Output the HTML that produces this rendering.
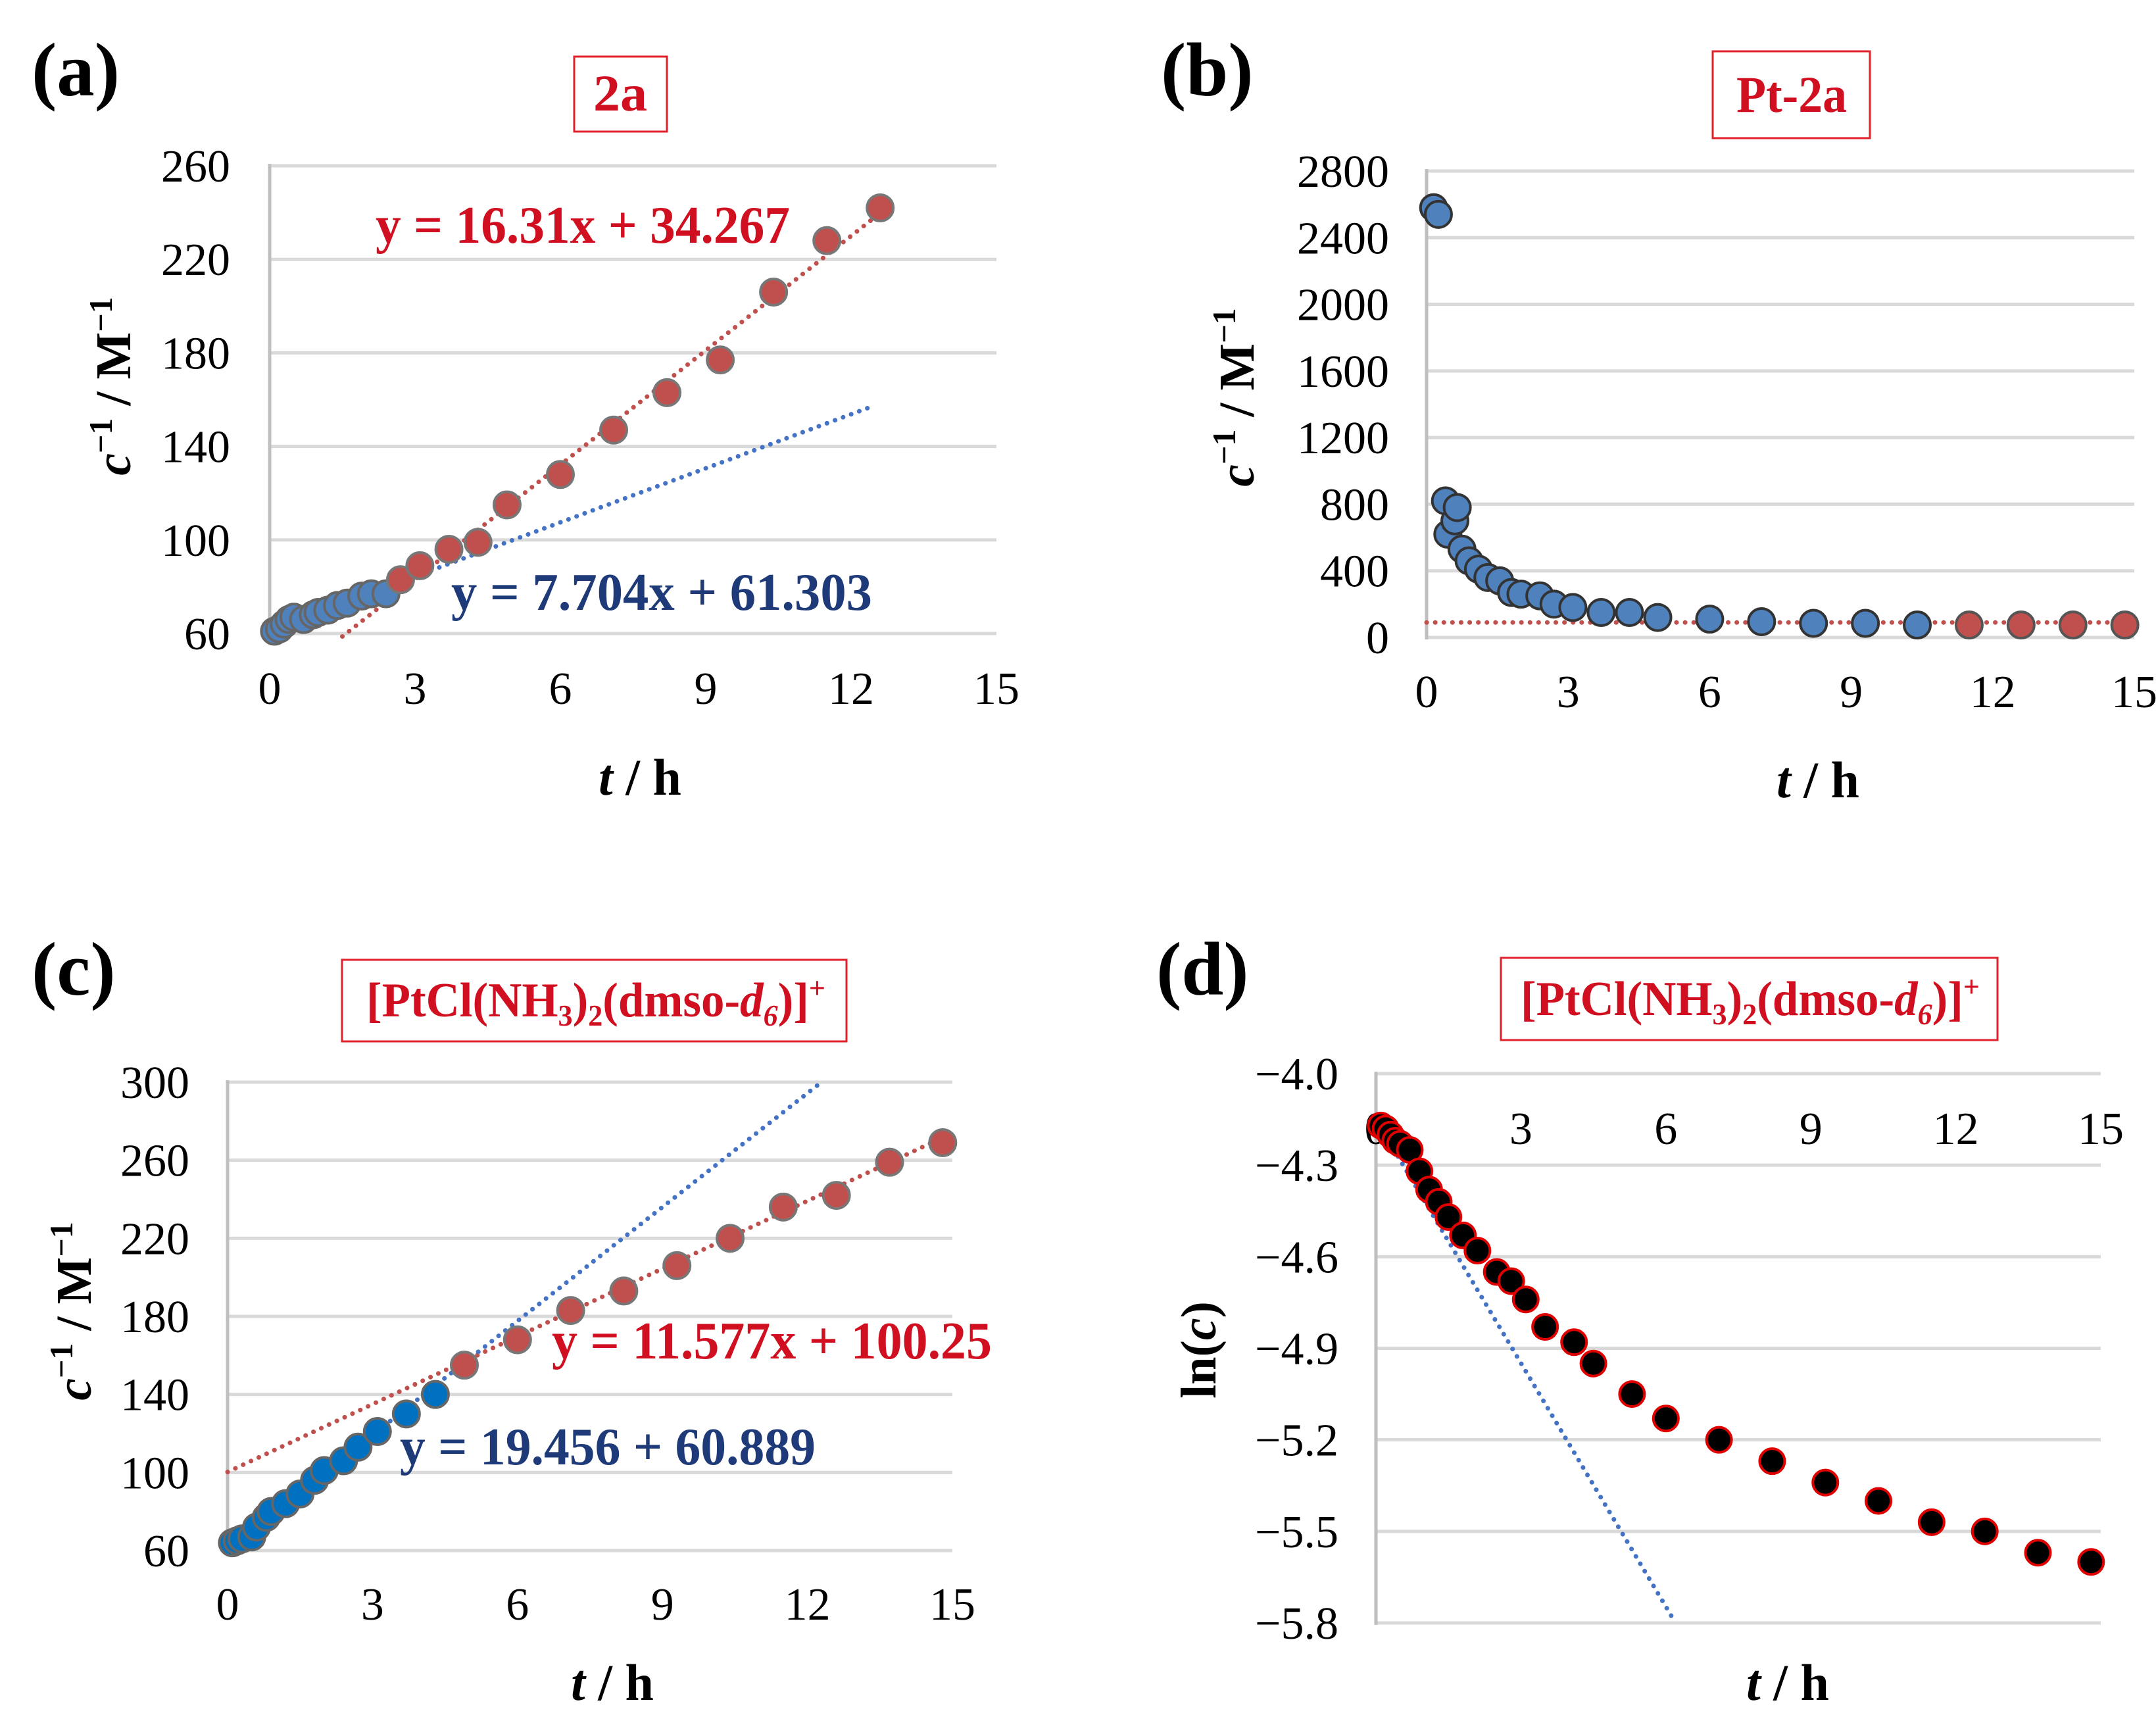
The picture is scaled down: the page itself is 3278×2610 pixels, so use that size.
<!DOCTYPE html>
<html><head><meta charset="utf-8"><style>
html,body{margin:0;padding:0;background:#fff}
svg{display:block}
text{font-family:"Liberation Serif",serif}
</style></head><body>
<svg id="fig" xmlns="http://www.w3.org/2000/svg" width="3278" height="2610" viewBox="0 0 3278 2610">
<!-- panel labels -->
<text x="48" y="145" font-size="115" font-weight="bold">(a)</text>
<text x="1765" y="145" font-size="115" font-weight="bold">(b)</text>
<text x="48" y="1512" font-size="115" font-weight="bold">(c)</text>
<text x="1758" y="1512" font-size="115" font-weight="bold">(d)</text>
<!-- title boxes -->
<g>
<rect x="873" y="86" width="141" height="114" fill="none" stroke="#e0202a" stroke-width="3"/>
<text x="943" y="168" font-size="78" font-weight="bold" fill="#d01020" text-anchor="middle" textLength="82" lengthAdjust="spacingAndGlyphs">2a</text></g>
<g>
<rect x="2604" y="78" width="239" height="132" fill="none" stroke="#e0202a" stroke-width="3"/>
<text x="2724" y="170" font-size="78" font-weight="bold" fill="#d01020" text-anchor="middle" textLength="168" lengthAdjust="spacingAndGlyphs">Pt-2a</text></g>
<g>
<rect x="520" y="1459" width="767" height="124" fill="none" stroke="#e0202a" stroke-width="3"/>
<text x="557" y="1545" font-size="74" font-weight="bold" fill="#d01020" textLength="698" lengthAdjust="spacingAndGlyphs">[PtCl(NH<tspan font-size="46" dy="14">3</tspan><tspan dy="-14">)</tspan><tspan font-size="46" dy="14">2</tspan><tspan dy="-14">(dmso-</tspan><tspan font-style="italic">d</tspan><tspan font-size="46" font-style="italic" dy="14">6</tspan><tspan dy="-14">)]</tspan><tspan font-size="46" dy="-28">+</tspan></text></g>
<g>
<rect x="2282" y="1456" width="755" height="125" fill="none" stroke="#e0202a" stroke-width="3"/>
<text x="2312" y="1543" font-size="74" font-weight="bold" fill="#d01020" textLength="698" lengthAdjust="spacingAndGlyphs">[PtCl(NH<tspan font-size="46" dy="14">3</tspan><tspan dy="-14">)</tspan><tspan font-size="46" dy="14">2</tspan><tspan dy="-14">(dmso-</tspan><tspan font-style="italic">d</tspan><tspan font-size="46" font-style="italic" dy="14">6</tspan><tspan dy="-14">)]</tspan><tspan font-size="46" dy="-28">+</tspan></text></g>
<!-- y titles -->
<text transform="translate(198,587) rotate(-90)" font-size="76" font-weight="bold" text-anchor="middle"><tspan font-style="italic">c</tspan><tspan font-size="50" dy="-28">−1</tspan><tspan dy="28"> / M</tspan><tspan font-size="50" dy="-28">−1</tspan></text>
<text transform="translate(1906,604) rotate(-90)" font-size="76" font-weight="bold" text-anchor="middle"><tspan font-style="italic">c</tspan><tspan font-size="50" dy="-28">−1</tspan><tspan dy="28"> / M</tspan><tspan font-size="50" dy="-28">−1</tspan></text>
<text transform="translate(138,1993) rotate(-90)" font-size="76" font-weight="bold" text-anchor="middle"><tspan font-style="italic">c</tspan><tspan font-size="50" dy="-28">−1</tspan><tspan dy="28"> / M</tspan><tspan font-size="50" dy="-28">−1</tspan></text>
<text transform="translate(1848,2052) rotate(-90)" font-size="76" font-weight="bold" text-anchor="middle">ln(<tspan font-style="italic">c</tspan>)</text>
<!-- x titles -->
<text x="973" y="1208" font-size="78" font-weight="bold" text-anchor="middle"><tspan font-style="italic">t</tspan> / h</text>
<text x="2764" y="1212" font-size="78" font-weight="bold" text-anchor="middle"><tspan font-style="italic">t</tspan> / h</text>
<text x="931" y="2584" font-size="78" font-weight="bold" text-anchor="middle"><tspan font-style="italic">t</tspan> / h</text>
<text x="2718" y="2584" font-size="78" font-weight="bold" text-anchor="middle"><tspan font-style="italic">t</tspan> / h</text>
</svg>
<script>
// ---- data ----
const xTicks = [0,3,6,9,12,15];
const aYTicks = [60,100,140,180,220,260];
const aBlueT = [0.1,0.2,0.3,0.4,0.5,0.7,0.9,1.0,1.2,1.4,1.6,1.9,2.1,2.4];
const aBlueY = [61,62,64,66,67,66,68,69,70,72,73,76,77,77];
const aRedT = [2.7,3.1,3.7,4.3,4.9,6.0,7.1,8.2,9.3,10.4,11.5,12.6];
const aRedY = [83,89,96,99,115,128,147,163,177,206,228,242];
const aRedFit = [16.31,34.267];
const aBlueFit = [7.704,61.303];
const bYTicks = [0,400,800,1200,1600,2000,2400,2800];
const bBlueT = [0.15,0.25,0.4,0.45,0.6,0.65,0.75,0.9,1.1,1.3,1.55,1.8,2.0,2.4,2.7,3.1,3.7,4.3,4.9,6.0,7.1,8.2,9.3,10.4];
const bBlueY = [2580,2540,820,620,700,780,530,460,410,360,340,270,260,250,200,180,150,150,120,110,95,85,85,75];
const bRedT = [11.5,12.6,13.7,14.8];
const bRedY = [75,75,75,75];
const bRedLevel = [90];
const cYTicks = [60,100,140,180,220,260,300];
const cBlueT = [0.1,0.2,0.3,0.5,0.6,0.8,0.9,1.2,1.5,1.8,2.0,2.4,2.7,3.1,3.7,4.3];
const cBlueY = [64,65,66,67,72,77,80,84,89,96,101,106,113,121,130,140];
const cRedT = [4.9,6.0,7.1,8.2,9.3,10.4,11.5,12.6,13.7,14.8];
const cRedY = [155,168,183,193,206,220,236,242,259,269];
const cRedFit = [11.577,100.25];
const cBlueFit = [19.456,60.889];
const dYTicks = [-4.0,-4.3,-4.6,-4.9,-5.2,-5.5,-5.8];
const dYLabels = ["−4.0","−4.3","−4.6","−4.9","−5.2","−5.5","−5.8"];
const dT = [0.1,0.2,0.3,0.4,0.5,0.7,0.9,1.1,1.3,1.5,1.8,2.1,2.5,2.8,3.1,3.5,4.1,4.5,5.3,6.0,7.1,8.2,9.3,10.4,11.5,12.6,13.7,14.8];
const dY = [-4.17,-4.18,-4.2,-4.22,-4.23,-4.25,-4.32,-4.38,-4.42,-4.47,-4.53,-4.58,-4.65,-4.68,-4.74,-4.83,-4.88,-4.95,-5.05,-5.13,-5.2,-5.27,-5.34,-5.4,-5.47,-5.5,-5.57,-5.6];
const dFitStart = [0,-4.15];
const dFitEnd = [6.2,-5.8];

const NS = "http://www.w3.org/2000/svg";
const svg = document.getElementById('fig');
function mk(tag, attrs, parent){const e=document.createElementNS(NS,tag);for(const k in attrs)e.setAttribute(k,attrs[k]);(parent||svg).appendChild(e);return e;}
function axes(L,R,T,B,xmin,xmax,ymin,ymax){return {x:v=>L+(v-xmin)/(xmax-xmin)*(R-L), y:v=>B-(v-ymin)/(ymax-ymin)*(B-T), L,R,T,B};}

function frame(id, ax, yTicks, yLabels, yLabRight, xLabY){
  const g=mk('g',{});
  
  
  yTicks.forEach((v,i)=>{
    const l=mk('line',{x1:ax.L,x2:ax.R,y1:ax.y(v),y2:ax.y(v),stroke:'#d9d9d9','stroke-width':5},g);
    
    
    const t=mk('text',{x:yLabRight,y:ax.y(v)+24,'font-size':70,'text-anchor':'end'},g);
    
    
    t.textContent=yLabels?yLabels[i]:String(v);
  });
  const a=mk('line',{x1:ax.L,x2:ax.L,y1:ax.T-3,y2:ax.B+3,stroke:'#bfbfbf','stroke-width':5},g);
  
  
  xTicks.forEach(v=>{
    const t=mk('text',{x:ax.x(v),y:xLabY,'font-size':70,'text-anchor':'middle'},g);
    
    
    t.textContent=String(v);
  });
  return g;
}
function line(ax,x0,y0,x1,y1,color,name){
  const l=mk('line',{x1:ax.x(x0),y1:ax.y(y0),x2:ax.x(x1),y2:ax.y(y1),stroke:color,'stroke-width':7,'stroke-dasharray':'0.1 13','stroke-linecap':'round'});
  
  
}
function points(ax,ts,ys,fill,stroke,r,name){
  ts.forEach((t,i)=>{
    const c=mk('circle',{cx:ax.x(t),cy:ax.y(ys[i]),r:r,fill:fill,stroke:stroke,'stroke-width':4});
    
    
  });
}
function eq(x,y,txt,color,len,name){
  const t=mk('text',{x:x,y:y,'font-size':80,'font-weight':'bold',fill:color,textLength:len,lengthAdjust:'spacingAndGlyphs'});
  
  
  t.textContent=txt;
}

// Panel a
const A=axes(410,1515,252,963,0,15,60,260);
frame('a',A,aYTicks,null,350,1070);
line(A,1.5,aRedFit[0]*1.5+aRedFit[1],12.6,aRedFit[0]*12.6+aRedFit[1],'#c0504d','trendline-red-a');
line(A,0,aBlueFit[1],12.5,aBlueFit[0]*12.5+aBlueFit[1],'#4472c4','trendline-blue-a');
points(A,aBlueT,aBlueY,'#4f81bd','#666',20,'point-blue-a');
points(A,aRedT,aRedY,'#c0504d','#777',20,'point-red-a');
eq(571,369,'y = 16.31x + 34.267','#d01020',630,'equation-red-a');
eq(686,927,'y = 7.704x + 61.303','#1f3a78',640,'equation-blue-a');

// Panel b
const B=axes(2169,3245,260,969,0,15,0,2800);
frame('b',B,bYTicks,null,2112,1075);
line(B,0,bRedLevel[0],15,bRedLevel[0],'#c0504d','trendline-red-b');
points(B,bBlueT,bBlueY,'#4f81bd','#333',20,'point-blue-b');
points(B,bRedT,bRedY,'#c0504d','#555',20,'point-red-b');

// Panel c
const C=axes(346,1448,1645,2357,0,15,60,300);
frame('c',C,cYTicks,null,288,2462);
line(C,0,cRedFit[1],14.8,cRedFit[0]*14.8+cRedFit[1],'#c0504d','trendline-red-c');
line(C,0,cBlueFit[1],(300-cBlueFit[1])/cBlueFit[0],300,'#4472c4','trendline-blue-c');
points(C,cBlueT,cBlueY,'#0070c0','#666',20,'point-blue-c');
points(C,cRedT,cRedY,'#c0504d','#777',20,'point-red-c');
eq(839,2065,'y = 11.577x + 100.25','#d01020',669,'equation-red-c');
eq(608,2226,'y = 19.456 + 60.889','#1f3a78',632,'equation-blue-c');

// Panel d
const D=axes(2092,3194,1632,2467,0,15,-4.0,-5.8);
D.y=v=>1632+(v-(-4.0))/(-1.8)*(2467-1632);
frame('d',D,dYTicks,dYLabels,2035,1739);
line(D,dFitStart[0],dFitStart[1],dFitEnd[0],dFitEnd[1],'#4472c4','trendline-blue-d');
points(D,dT,dY,'#000','#e00000',19,'point-d');
</script>
</body></html>
